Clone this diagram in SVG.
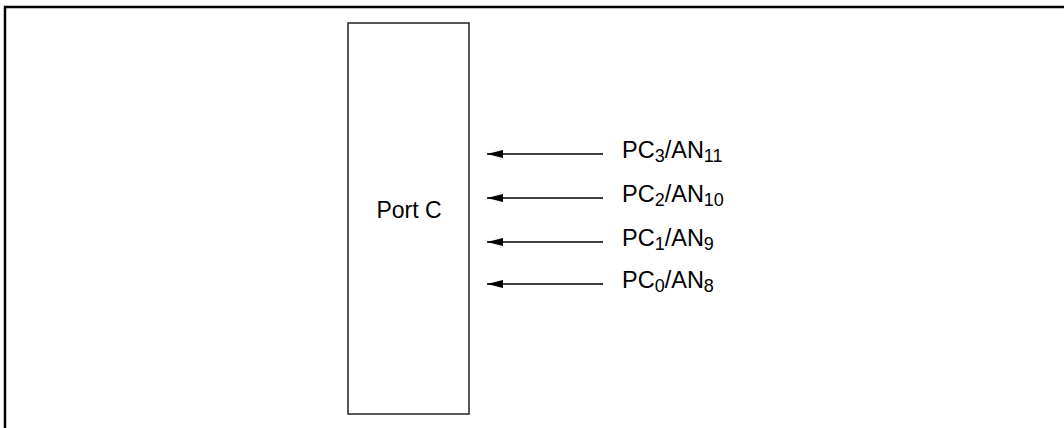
<svg xmlns="http://www.w3.org/2000/svg" width="1064" height="428" viewBox="0 0 1064 428">
<style>
.t{font-family:"Liberation Sans",Arial,sans-serif;font-size:23px;fill:#000}
.l{font-size:23.5px}
.s{font-size:18px}
.c{stroke:#000;stroke-width:1.4;fill:none}
</style>
<defs>
<marker id="ah" markerWidth="16" markerHeight="8" refX="16" refY="4" orient="auto" markerUnits="userSpaceOnUse">
<path d="M0,0 L16,4 L0,8 Z" fill="#000"/>
</marker>
</defs>
<rect width="1064" height="428" fill="#fff"/>
<path d="M5,428 V7 H1064" fill="none" stroke="#000" stroke-width="2.5"/>
<g id="portc">
<rect x="348" y="23" width="121" height="391" fill="#fff" stroke="#222" stroke-width="1.5"/>
<text class="t" x="409" y="218" text-anchor="middle">Port C</text>
</g>
<g id="connectors">
<line class="c" x1="603" y1="154" x2="487" y2="154" marker-end="url(#ah)"/>
<line class="c" x1="603" y1="198" x2="487" y2="198" marker-end="url(#ah)"/>
<line class="c" x1="603" y1="242" x2="487" y2="242" marker-end="url(#ah)"/>
<line class="c" x1="603" y1="284" x2="487" y2="284" marker-end="url(#ah)"/>
</g>
<g id="pc3">
<text class="t l" x="622" y="158">PC<tspan class="s" dy="4">3</tspan><tspan dy="-4">/AN</tspan><tspan class="s" dy="4">11</tspan></text>
</g>
<g id="pc2">
<text class="t l" x="622" y="202">PC<tspan class="s" dy="4">2</tspan><tspan dy="-4">/AN</tspan><tspan class="s" dy="4">10</tspan></text>
</g>
<g id="pc1">
<text class="t l" x="622" y="246">PC<tspan class="s" dy="4">1</tspan><tspan dy="-4">/AN</tspan><tspan class="s" dy="4">9</tspan></text>
</g>
<g id="pc0">
<text class="t l" x="622" y="288">PC<tspan class="s" dy="4">0</tspan><tspan dy="-4">/AN</tspan><tspan class="s" dy="4">8</tspan></text>
</g>
</svg>
